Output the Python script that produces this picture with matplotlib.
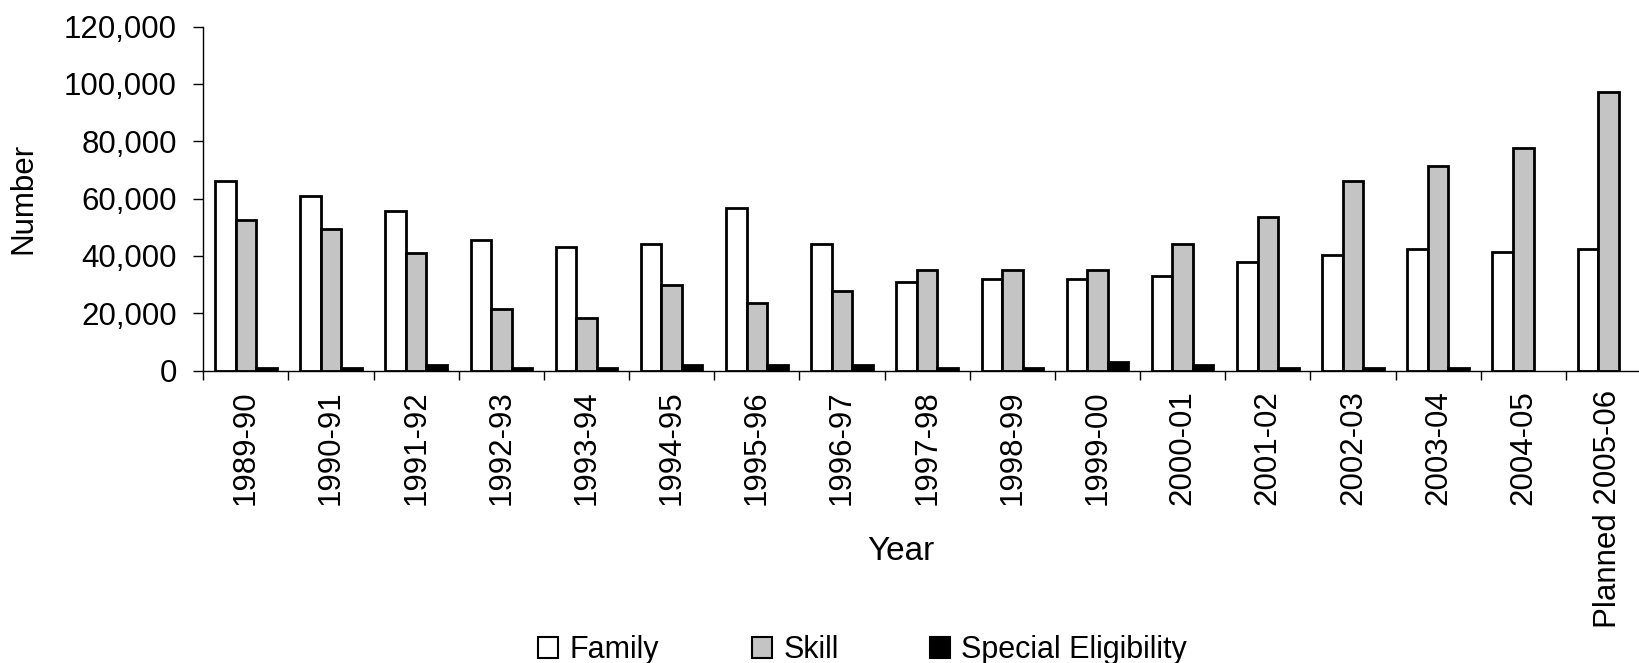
import matplotlib
matplotlib.use("Agg")
import matplotlib.pyplot as plt
import numpy as np
from matplotlib.ticker import FuncFormatter, FixedLocator

plt.rcParams['font.family'] = ['Liberation Sans', 'DejaVu Sans']

years = ["1989-90", "1990-91", "1991-92", "1992-93", "1993-94", "1994-95",
         "1995-96", "1996-97", "1997-98", "1998-99", "1999-00", "2000-01",
         "2001-02", "2002-03", "2003-04", "2004-05", "Planned 2005-06"]
family = [66000, 61000, 55700, 45500, 43300, 44200, 56600, 44300, 31000,
          31900, 31900, 33000, 38000, 40200, 42300, 41300, 42300]
skill = [52600, 49500, 41100, 21400, 18400, 29800, 23600, 27700, 35100,
         35100, 35100, 44200, 53600, 66100, 71300, 77600, 97300]
special = [1000, 1000, 2000, 1000, 1000, 2000, 2000, 2000, 1000,
           1000, 3000, 2000, 1000, 1000, 1000, 0, 0]

W, H = 1640, 663
fig = plt.figure(figsize=(W / 100, H / 100), dpi=100)
ax_left, ax_right, ax_top, ax_bot = 203.3, 1651, 26.5, 370.7
ax = fig.add_axes([ax_left / W, 1 - ax_bot / H, (ax_right - ax_left) / W, (ax_bot - ax_top) / H])

x = np.arange(len(years))
w = 0.241
lw = 2.0
b1 = ax.bar(x - w, family, w, color='white', edgecolor='black', linewidth=lw, label='Family')
b2 = ax.bar(x, skill, w, color='#c4c4c4', edgecolor='black', linewidth=lw, label='Skill')
b3 = ax.bar(x + w, special, w, color='black', edgecolor='black',
            linewidth=[lw if v > 0 else 0 for v in special], label='Special Eligibility')

ax.set_xlim(-0.5, len(years) - 0.5)
ax.set_ylim(0, 120000)
ax.set_yticks(np.arange(0, 120001, 20000))
ax.yaxis.set_major_formatter(FuncFormatter(lambda v, p: f"{int(v):,}"))

ax.set_xticks(x)
ax.set_xticklabels(years, rotation=90)
ax.xaxis.set_minor_locator(FixedLocator(np.arange(-0.5, len(years), 1.0)))
ax.tick_params(axis='x', which='major', length=0, pad=14, labelsize=22.5)
ax.tick_params(axis='x', which='minor', length=6.5, width=1, direction='out')
ax.tick_params(axis='y', which='major', length=7, width=1, pad=12, labelsize=22.5)

for s in ['top', 'right']:
    ax.spines[s].set_visible(False)
for s in ['left', 'bottom']:
    ax.spines[s].set_linewidth(1)

axw = ax_right - ax_left
axh = ax_bot - ax_top
ax.set_ylabel('Number', fontsize=22.5, va='center')
ax.yaxis.set_label_coords((23 - ax_left) / axw, (ax_bot - 198) / axh)
ax.set_xlabel('Year', fontsize=24, va='center')
ax.xaxis.set_label_coords((901 - ax_left) / axw, (ax_bot - 551) / axh)

legend_items = [(b1, 'Family', 538), (b2, 'Skill', 752), (b3, 'Special Eligibility', 930)]
for handle, text, xpos in legend_items:
    leg = fig.legend([handle], [text], loc='center left',
                     bbox_to_anchor=(xpos / W, 1 - 650 / H), frameon=False,
                     fontsize=22, handlelength=0.66, handleheight=0.66,
                     handletextpad=0.36, borderpad=0, borderaxespad=0)
    for h in leg.legend_handles:
        h.set_linewidth(1.5)

fig.savefig('out.png', dpi=100)
